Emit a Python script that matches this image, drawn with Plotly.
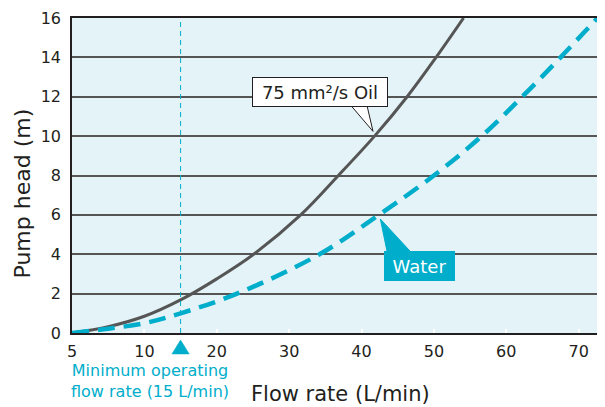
import plotly.graph_objects as go

# Data
oil_flow = [0, 5, 10, 15, 20, 25.1, 31.6, 36.8, 41.8, 46.3, 50.3, 54.1]
oil_head = [0, 0.32, 0.85, 1.68, 2.75, 4.0, 6.0, 8.0, 10.0, 12.0, 14.0, 16.0]
water_flow = [0, 5, 10, 15, 22.8, 34.2, 42.4, 50.0, 56.6, 62.2, 67.5, 72.6]
water_head = [0, 0.22, 0.5, 1.0, 2.0, 4.0, 6.0, 8.0, 10.0, 12.0, 14.0, 16.0]
x_tickvals = [0, 10, 20, 30, 40, 50, 60, 70]
x_ticktext = ["5", "10", "20", "30", "40", "50", "60", "70"]
y_tickvals = [0, 2, 4, 6, 8, 10, 12, 14, 16]
min_flow = 15

TEAL = "#00AECB"
DARK = "#555555"
TXT = "#231F20"
FONT = "DejaVu Sans, Liberation Sans, Arial, sans-serif"

# page has an 8px body margin; figure coordinates = page coordinates - 8
OFF = 8
W, H = 605 - OFF, 407 - OFF
L, T, R, B = 72 - OFF, 18 - OFF, 604 - OFF, 333 - OFF
PW, PH = R - L, B - T


def px(xp):
    return (xp - OFF - L) / PW


def py(yp):
    return (B - (yp - OFF)) / PH


fig = go.Figure()
fig.add_trace(go.Scatter(x=oil_flow, y=oil_head, mode="lines",
                         line=dict(color=DARK, width=3, shape="spline"),
                         showlegend=False, hoverinfo="skip"))
fig.add_trace(go.Scatter(x=water_flow, y=water_head, mode="lines",
                         line=dict(color=TEAL, width=4.5, dash="17px,9px", shape="spline"),
                         showlegend=False, hoverinfo="skip"))

shapes = [
    dict(type="line", x0=min_flow, x1=min_flow, y0=0, y1=16, xref="x", yref="y",
         line=dict(color=TEAL, width=1, dash="5px,4px"), layer="above"),
    dict(type="line", x0=1, x1=1, y0=0, y1=1, xref="paper", yref="paper",
         line=dict(color="#999999", width=1.5)),
    # triangle marker under the axis at the minimum operating flow
    dict(type="path",
         path=f"M 13.8 {py(354):.4f} L 16.2 {py(354):.4f} L 15 {py(340):.4f} Z",
         xref="x", yref="paper", fillcolor=TEAL, line=dict(color=TEAL, width=0.5)),
    # oil callout tail
    dict(type="path", path="M 38.55 11.55 L 41.59 10.24 L 40.76 11.55 Z", xref="x", yref="y",
         fillcolor="white", line=dict(color=TXT, width=1), layer="above"),
    # water callout tail
    dict(type="path", path="M 43.53 4.14 L 42.6 5.79 L 46.75 4.14 Z", xref="x", yref="y",
         fillcolor=TEAL, line=dict(color=TEAL, width=1), layer="above"),
]

annotations = [
    dict(x=34.2, y=12.26, xref="x", yref="y", text="75 mm²/s Oil", showarrow=False,
         font=dict(size=18, color=TXT, family=FONT), bgcolor="white",
         bordercolor=TXT, borderwidth=1, borderpad=2, width=130, height=24),
    dict(x=48.06, y=3.41, xref="x", yref="y", text="Water", showarrow=False,
         font=dict(size=18, color="white", family=FONT), bgcolor=TEAL,
         bordercolor=TEAL, borderwidth=1, borderpad=2, width=65, height=24),
    dict(x=px(149.5), y=py(381), xref="paper", yref="paper", xanchor="center", yanchor="middle",
         text="Minimum operating<br>flow rate (15 L/min)",
         showarrow=False, font=dict(size=16, color=TEAL, family=FONT), align="center"),
    dict(x=px(340), y=py(394), xref="paper", yref="paper",
         xanchor="center", yanchor="middle", text="Flow rate (L/min)", showarrow=False,
         font=dict(size=21, color=TXT, family=FONT)),
    dict(x=px(22), y=py(193.5), xref="paper", yref="paper",
         xanchor="center", yanchor="middle", text="Pump head (m)", showarrow=False,
         textangle=-90, font=dict(size=22, color=TXT, family=FONT)),
]

fig.update_layout(
    width=W, height=H,
    margin=dict(l=L, r=W - R, t=T, b=H - B, pad=0, autoexpand=False),
    paper_bgcolor="white", plot_bgcolor="#E4F3F7",
    font=dict(family=FONT, color=TXT),
    shapes=shapes, annotations=annotations,
    xaxis=dict(range=[0, 73.5], tickvals=x_tickvals, ticktext=x_ticktext, showgrid=False,
               zeroline=False, showline=True, mirror=True, linecolor=TXT, linewidth=1.5,
               ticks="inside", tickcolor="white", ticklen=4, tickwidth=1.5,
               tickfont=dict(size=16, color=TXT), ticklabelstandoff=3, automargin=False),
    yaxis=dict(range=[0, 16], tickvals=y_tickvals, showgrid=True, gridcolor=DARK, gridwidth=1.5,
               zeroline=False, showline=True, linecolor=TXT, linewidth=1.5,
               tickfont=dict(size=16, color=TXT), ticks="", ticklabelstandoff=6, automargin=False),
)

fig.write_html("out.html")
